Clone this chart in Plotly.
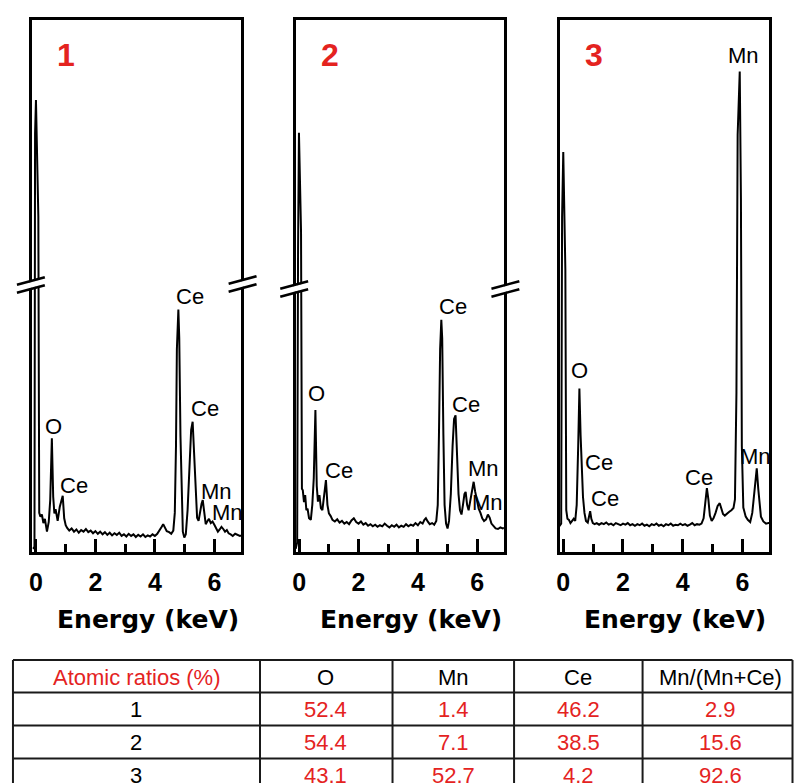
import plotly.graph_objects as go

# ---------------- EDS spectra (energy in keV, intensity in arbitrary units) ----------------
energy_1 = [-0.10, -0.05, -0.03, 0.00, 0.08, 0.11, 0.15, 0.20, 0.25, 0.30, 0.37, 0.43, 0.48, 0.535,
            0.58, 0.62, 0.66, 0.73, 0.80, 0.86, 0.90, 0.95, 1.00, 1.05, 1.12, 1.20, 1.28, 1.36, 1.44,
            1.52, 1.60, 1.68, 1.76, 1.84, 1.92, 2.00, 2.08, 2.16, 2.24, 2.32, 2.40, 2.48, 2.56, 2.64,
            2.72, 2.80, 2.88, 2.96, 3.04, 3.12, 3.20, 3.28, 3.36, 3.44, 3.52, 3.60, 3.68, 3.76, 3.84,
            3.92, 4.00, 4.08, 4.16, 4.23, 4.28, 4.34, 4.40, 4.48, 4.55, 4.62, 4.67, 4.71, 4.74, 4.79,
            4.82, 4.86, 4.90, 4.94, 4.99, 5.04, 5.10, 5.16, 5.22, 5.27, 5.32, 5.37, 5.42, 5.47, 5.52,
            5.57, 5.61, 5.66, 5.71, 5.76, 5.82, 5.88, 5.94, 6.00, 6.06, 6.12, 6.18, 6.24, 6.30, 6.36,
            6.42, 6.48, 6.55, 6.62, 6.70, 6.78, 6.86, 6.92]
counts_1 = [0.8, 1.2, 78.3, 84.5, 62.7, 7.5, 6.8, 7.2, 5.6, 6.4, 4.0, 5.8, 9.9, 21.4,
            10.5, 7.4, 8.2, 6.0, 8.6, 9.6, 10.7, 6.5, 5.2, 4.7, 4.2, 4.6, 4.0, 4.4, 3.8,
            4.3, 4.0, 4.5, 3.9, 4.2, 3.7, 4.1, 3.6, 4.0, 3.5, 3.9, 3.4, 3.8, 3.3, 3.7,
            3.4, 3.8, 3.2, 3.5, 3.1, 3.6, 3.2, 3.5, 3.0, 3.4, 3.1, 3.5, 3.0, 3.3, 3.1,
            3.5, 3.2, 3.6, 4.2, 4.9, 5.4, 4.8, 4.1, 3.9, 3.6, 4.2, 7.5, 20.0, 38.0, 45.4,
            40.0, 22.0, 9.0, 4.0, 2.9, 3.5, 8.0, 17.0, 23.0, 24.5, 18.0, 10.0, 6.6, 6.0, 7.8,
            9.2, 9.9, 7.0, 5.4, 5.9, 6.4, 5.6, 5.9, 5.3, 4.6, 4.0, 4.4, 4.9, 4.5, 4.0,
            4.3, 3.7, 3.5, 3.2, 3.6, 3.4, 3.2, 3.3]

energy_2 = [-0.12, -0.07, -0.04, -0.01, 0.06, 0.09, 0.12, 0.16, 0.20, 0.24, 0.28, 0.33, 0.39, 0.44,
            0.49, 0.545, 0.59, 0.63, 0.68, 0.73, 0.78, 0.84, 0.90, 0.95, 1.00, 1.06, 1.12, 1.20, 1.28,
            1.36, 1.44, 1.52, 1.60, 1.68, 1.76, 1.84, 1.92, 2.00, 2.08, 2.16, 2.24, 2.32, 2.40, 2.48,
            2.56, 2.64, 2.72, 2.80, 2.88, 2.96, 3.04, 3.12, 3.20, 3.28, 3.36, 3.44, 3.52, 3.60, 3.68,
            3.76, 3.84, 3.92, 4.00, 4.08, 4.16, 4.22, 4.27, 4.33, 4.40, 4.48, 4.55, 4.62, 4.67, 4.71,
            4.75, 4.79, 4.82, 4.86, 4.90, 4.95, 5.00, 5.05, 5.11, 5.17, 5.22, 5.27, 5.32, 5.37, 5.42,
            5.47, 5.52, 5.57, 5.61, 5.66, 5.71, 5.76, 5.82, 5.88, 5.93, 5.99, 6.05, 6.11, 6.17, 6.23,
            6.30, 6.36, 6.42, 6.48, 6.55, 6.62, 6.70, 6.78, 6.86, 6.92]
counts_2 = [0.8, 2.0, 57.0, 78.4, 60.0, 12.0, 11.7, 9.5, 10.8, 8.0, 8.3, 6.5, 6.2, 9.0,
            14.0, 26.7, 12.5, 9.6, 10.8, 8.4, 8.0, 11.0, 13.6, 9.0, 7.4, 6.9, 6.2, 5.9, 6.3,
            5.7, 6.0, 5.5, 5.8, 5.4, 6.1, 6.5, 5.8, 5.5, 5.9, 5.3, 5.6, 5.1, 5.4, 5.0,
            5.3, 4.9, 5.2, 5.0, 5.5, 5.1, 4.8, 5.2, 4.9, 5.3, 4.8, 5.1, 4.9, 5.4, 5.0,
            5.3, 5.1, 5.6, 5.2, 5.8, 5.5, 6.2, 6.5, 5.9, 5.4, 5.6, 5.3, 6.0, 9.0, 22.0,
            38.0, 43.5, 40.0, 22.0, 9.0, 5.5, 4.6, 6.0, 11.0, 20.0, 25.0, 25.7, 19.0, 11.0, 8.0,
            7.2, 9.0, 11.0, 11.4, 9.0, 8.0, 9.5, 12.0, 13.3, 11.5, 10.0, 8.3, 7.5, 6.5, 6.0,
            6.3, 7.2, 6.6, 5.5, 5.0, 4.6, 4.5, 4.8, 4.6, 4.7]

energy_3 = [-0.13, -0.07, -0.04, 0.00, 0.07, 0.10, 0.14, 0.19, 0.24, 0.29, 0.35, 0.40, 0.45, 0.50,
            0.54, 0.58, 0.62, 0.66, 0.71, 0.76, 0.82, 0.87, 0.90, 0.94, 0.99, 1.05, 1.12, 1.20, 1.28,
            1.36, 1.44, 1.52, 1.60, 1.68, 1.76, 1.84, 1.92, 2.00, 2.08, 2.16, 2.24, 2.32, 2.40, 2.48,
            2.56, 2.64, 2.72, 2.80, 2.88, 2.96, 3.04, 3.12, 3.20, 3.28, 3.36, 3.44, 3.52, 3.60, 3.68,
            3.76, 3.84, 3.92, 4.00, 4.08, 4.16, 4.24, 4.32, 4.40, 4.48, 4.56, 4.63, 4.70, 4.76, 4.81,
            4.86, 4.91, 4.97, 5.03, 5.10, 5.17, 5.24, 5.29, 5.35, 5.41, 5.48, 5.56, 5.63, 5.70, 5.75,
            5.80, 5.84, 5.91, 5.95, 5.98, 6.03, 6.11, 6.18, 6.26, 6.33, 6.39, 6.44, 6.48, 6.53, 6.58,
            6.62, 6.70, 6.79, 6.87, 6.92]
counts_3 = [5.0, 5.5, 62.7, 74.8, 52.8, 8.0, 6.4, 6.2, 5.6, 5.9, 6.4, 6.0, 9.0, 20.0,
            30.7, 22.0, 15.5, 10.5, 7.5, 6.0, 5.7, 6.8, 7.8, 6.4, 5.6, 5.4, 5.6, 5.3, 5.6,
            5.4, 5.7, 5.3, 5.5, 5.2, 5.6, 5.4, 5.2, 5.5, 5.3, 5.6, 5.2, 5.4, 5.1, 5.4,
            5.2, 5.5, 5.1, 5.3, 5.0, 5.4, 5.2, 5.5, 5.1, 5.3, 5.0, 5.4, 5.2, 5.5, 5.1,
            5.3, 5.2, 5.5, 5.2, 5.4, 5.1, 5.3, 5.6, 5.2, 5.4, 5.3, 5.5, 6.5, 9.5, 12.1,
            10.0, 7.0, 6.0, 6.5, 7.5, 8.8, 9.3, 8.5, 7.3, 7.0, 7.4, 7.7, 8.0, 8.4, 10.0,
            30.0, 78.0, 89.8, 66.0, 20.0, 8.5, 6.8, 6.2, 5.8, 7.5, 11.0, 14.5, 15.8, 12.0, 8.0,
            6.8, 5.9, 5.5, 5.6, 5.6]

# peak assignments written on each spectrum
peak_labels_1 = ["O", "Ce", "Ce", "Ce", "Mn", "Mn"]
peak_labels_2 = ["O", "Ce", "Ce", "Ce", "Mn", "Mn"]
peak_labels_3 = ["Mn", "O", "Ce", "Ce", "Ce", "Mn"]

panel_names = ["1", "2", "3"]
energy_ticks = [0, 2, 4, 6]
axis_title = "Energy (keV)"

# ---------------- atomic-ratio table ----------------
table_header = ["Atomic ratios (%)", "O", "Mn", "Ce", "Mn/(Mn+Ce)"]
sample_ids = ["1", "2", "3"]
ratio_O = [52.4, 54.4, 43.1]
ratio_Mn = [1.4, 7.1, 52.7]
ratio_Ce = [46.2, 38.5, 4.2]
ratio_Mn_frac = [2.9, 15.6, 92.6]

# ---------------- layout helpers ----------------
W, H = 794, 783
RED = "#e4231f"
LABEL_FONT = dict(family="Liberation Sans, Arial, sans-serif", size=22, color="black")


def px(x):
    return x / W


def py(y):
    return 1 - y / H


# inner plotting boxes in pixels (left, right) and shared vertical extent
panel_px = [(29.5, 239.0), (293.8, 502.8), (558.8, 769.2)]
top_px, bottom_px = 19.5, 551.5
x_range = [-0.12, 6.9]
y_range = [0.3, 99.5]

spectra = [(energy_1, counts_1), (energy_2, counts_2), (energy_3, counts_3)]

# label anchor positions (energy, intensity) for each panel's peak labels
label_pos = [
    [(0.59, 23.6), (1.28, 12.7), (5.17, 47.9), (5.67, 26.9), (6.07, 11.5), (6.43, 7.6)],
    [(0.59, 29.7), (1.34, 15.4), (5.18, 46.0), (5.62, 27.8), (6.22, 15.7), (6.34, 9.5)],
    [(6.04, 92.7), (0.56, 34.0), (1.18, 16.9), (1.40, 10.1), (4.56, 14.1), (6.43, 18.0)],
]
peak_labels = [peak_labels_1, peak_labels_2, peak_labels_3]

fig = go.Figure()
annotations = []
shapes = []
layout = {}

for i, ((e, c), (xl, xr)) in enumerate(zip(spectra, panel_px)):
    n = i + 1
    xa = "x" if n == 1 else f"x{n}"
    ya = "y" if n == 1 else f"y{n}"
    fig.add_trace(go.Scatter(x=e, y=c, mode="lines", xaxis=xa, yaxis=ya,
                             line=dict(color="black", width=2), showlegend=False,
                             hoverinfo="skip"))
    layout[f"xaxis{'' if n == 1 else n}"] = dict(
        domain=[px(xl), px(xr)], range=x_range, anchor=ya,
        showline=True, mirror=True, linewidth=3, linecolor="black",
        ticks="inside", ticklen=13, tickwidth=2.5, tickcolor="black",
        tickmode="array", tickvals=energy_ticks,
        tickfont=dict(family="Liberation Sans, Arial, sans-serif", size=25,
                      color="black", weight="bold"),
        ticklabelstandoff=6,
        minor=dict(dtick=1, tick0=0, ticks="inside", ticklen=8, tickwidth=2.5,
                   tickcolor="black", showgrid=False),
        showgrid=False, zeroline=False, fixedrange=True)
    layout[f"yaxis{'' if n == 1 else n}"] = dict(
        domain=[py(bottom_px), py(top_px)], range=y_range, anchor=xa,
        showline=True, mirror=True, linewidth=3, linecolor="black",
        ticks="", showticklabels=False, showgrid=False, zeroline=False,
        fixedrange=True)

    # peak labels
    for txt, (lx, ly) in zip(peak_labels[i], label_pos[i]):
        annotations.append(dict(x=lx, y=ly, xref=xa, yref=ya, text=txt,
                                showarrow=False, font=LABEL_FONT,
                                xanchor="center", yanchor="middle"))
    # panel number
    annotations.append(dict(x=px(xl + 34), y=py(55), xref="paper", yref="paper",
                            text=f"<b>{panel_names[i]}</b>", showarrow=False,
                            font=dict(family="Liberation Sans, Arial, sans-serif",
                                      size=32, color=RED),
                            xanchor="center", yanchor="middle"))
    # axis title
    annotations.append(dict(x=px((xl + xr) / 2 + 11), y=py(619), xref="paper", yref="paper",
                            text=f"<b>{axis_title}</b>", showarrow=False,
                            font=dict(family="DejaVu Sans, sans-serif", size=25,
                                      color="black"),
                            xanchor="center", yanchor="middle"))


# axis-break marks on the first two panels
def break_mark(cx, cy):
    hl, rise, gap = 14, 3.8, 8.0
    y_up, y_lo = cy - gap / 2, cy + gap / 2
    pts = [(cx - hl, y_up + rise + 1), (cx + hl, y_up - rise + 1),
           (cx + hl, y_lo - rise - 1), (cx - hl, y_lo + rise - 1)]
    path = "M " + " L ".join(f"{px(a):.5f},{py(b):.5f}" for a, b in pts) + " Z"
    shapes.append(dict(type="path", path=path, xref="paper", yref="paper",
                       fillcolor="white", line=dict(width=0), layer="above"))
    for yy in (y_up, y_lo):
        shapes.append(dict(type="line", xref="paper", yref="paper",
                           x0=px(cx - hl), y0=py(yy + rise),
                           x1=px(cx + hl), y1=py(yy - rise),
                           line=dict(color="black", width=2.5), layer="above"))


break_mark(28.0, 285)
break_mark(240.5, 284)
break_mark(292.3, 289)
break_mark(504.3, 289)

# ---------------- table drawn with lines and text ----------------
row_lines = [660, 692.5, 725.5, 758.5, 791.5]
col_lines = [10, 258, 391, 513, 642, 792.5]
col_centers = [134, 324, 452, 577.5, 720]
row_centers = [677, 709, 742, 775]

for yy in row_lines:
    shapes.append(dict(type="line", xref="paper", yref="paper",
                       x0=px(col_lines[0]), x1=px(col_lines[-1]), y0=py(yy), y1=py(yy),
                       line=dict(color="#1a1a1a", width=2)))
for xx in col_lines:
    shapes.append(dict(type="line", xref="paper", yref="paper",
                       x0=px(xx), x1=px(xx), y0=py(row_lines[0]), y1=py(row_lines[-1]),
                       line=dict(color="#1a1a1a", width=2)))

TABLE_FONT = "Liberation Sans, Arial, sans-serif"
for j, head in enumerate(table_header):
    annotations.append(dict(x=px(col_centers[j]), y=py(row_centers[0]), xref="paper",
                            yref="paper", text=head, showarrow=False,
                            font=dict(family=TABLE_FONT, size=22,
                                      color=RED if j == 0 else "black"),
                            xanchor="center", yanchor="middle"))

columns = [ratio_O, ratio_Mn, ratio_Ce, ratio_Mn_frac]
for r, sid in enumerate(sample_ids):
    yc = py(row_centers[r + 1])
    annotations.append(dict(x=px(col_centers[0]), y=yc, xref="paper", yref="paper",
                            text=sid, showarrow=False,
                            font=dict(family=TABLE_FONT, size=22, color="black"),
                            xanchor="center", yanchor="middle"))
    for j, col in enumerate(columns):
        annotations.append(dict(x=px(col_centers[j + 1]), y=yc, xref="paper", yref="paper",
                                text=f"{col[r]:.1f}", showarrow=False,
                                font=dict(family=TABLE_FONT, size=22, color=RED),
                                xanchor="center", yanchor="middle"))

fig.update_layout(
    width=W, height=H, margin=dict(l=0, r=0, t=0, b=0),
    paper_bgcolor="white", plot_bgcolor="white",
    annotations=annotations, shapes=shapes, showlegend=False,
    **layout)

fig.write_html("out.html", config={"displayModeBar": False})
